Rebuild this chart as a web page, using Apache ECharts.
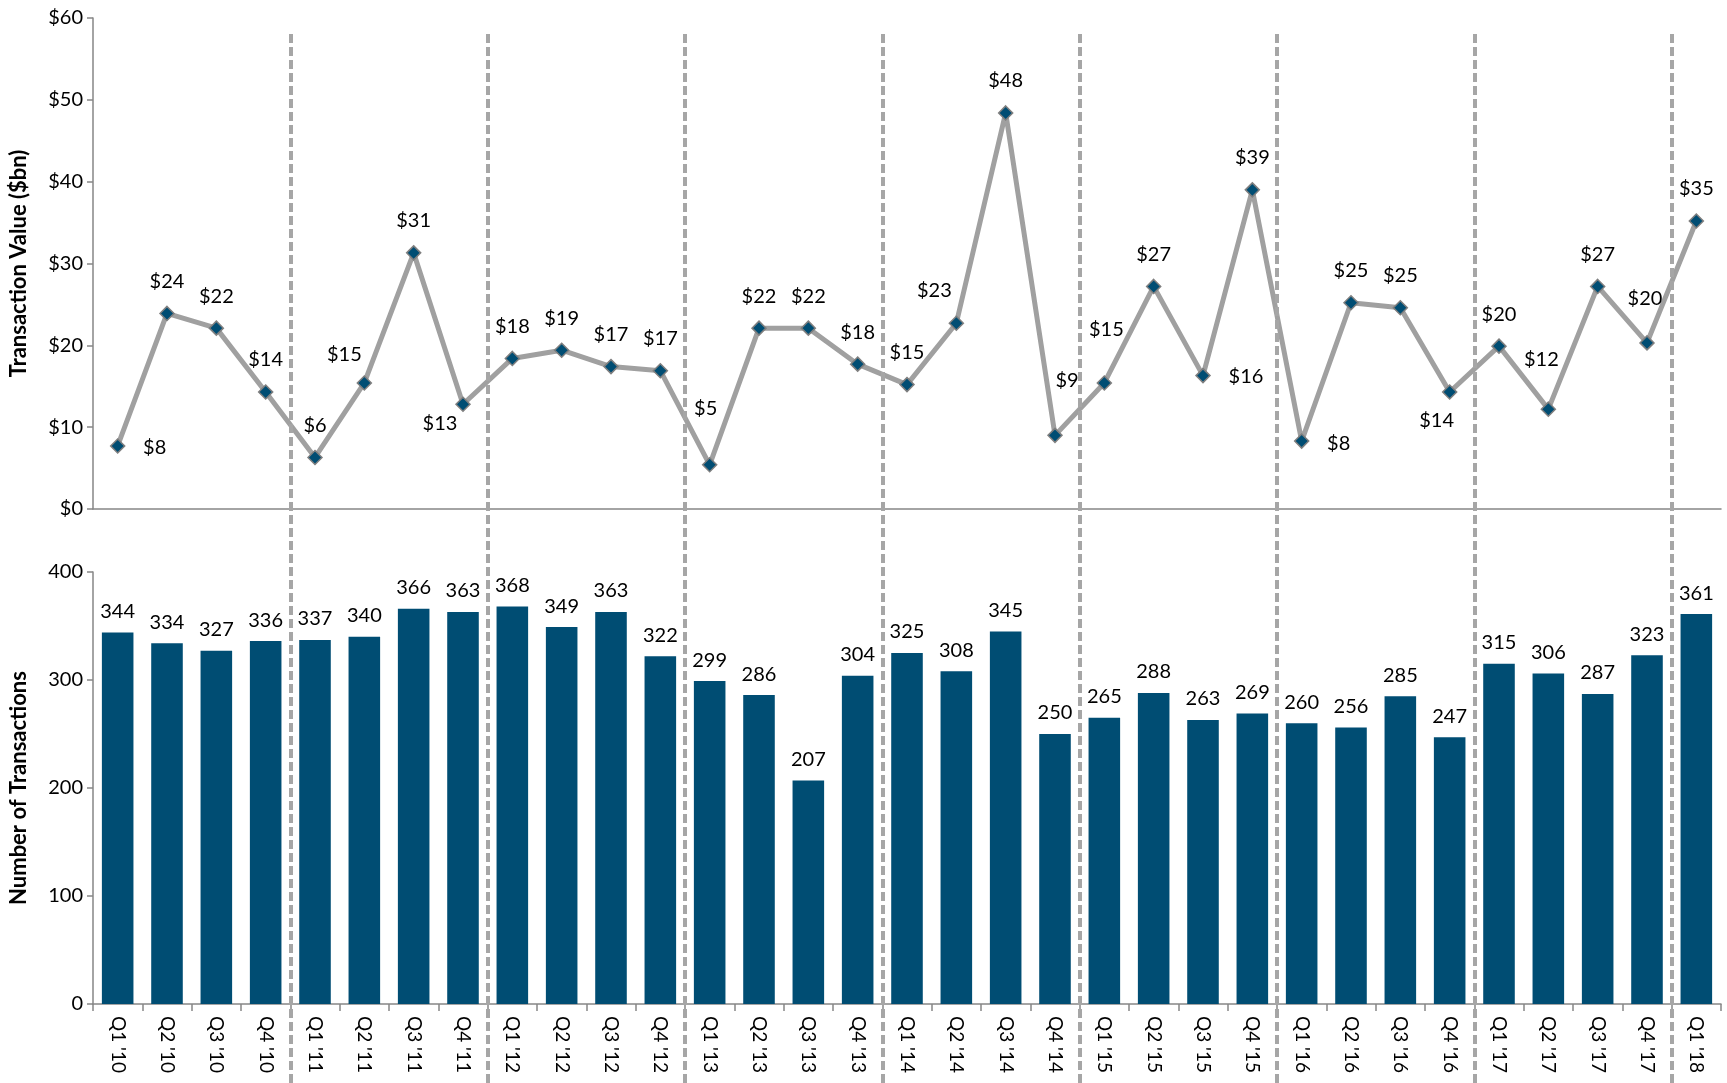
<!DOCTYPE html>
<html lang="en">
<head>
    <meta charset="UTF-8">
    <title>Transactions by quarter</title>
    <style>
        html, body { margin: 0; padding: 0; background: #fff; }
    </style>
</head>
<body>
    <div id="chart" style="width:1727px; height:1083px"></div>

    <script src="https://cdn.jsdelivr.net/npm/echarts@6/dist/echarts.min.js"></script>
    <script>
        // quarters
        const categories = [
            "Q1 '10", "Q2 '10", "Q3 '10", "Q4 '10",
            "Q1 '11", "Q2 '11", "Q3 '11", "Q4 '11",
            "Q1 '12", "Q2 '12", "Q3 '12", "Q4 '12",
            "Q1 '13", "Q2 '13", "Q3 '13", "Q4 '13",
            "Q1 '14", "Q2 '14", "Q3 '14", "Q4 '14",
            "Q1 '15", "Q2 '15", "Q3 '15", "Q4 '15",
            "Q1 '16", "Q2 '16", "Q3 '16", "Q4 '16",
            "Q1 '17", "Q2 '17", "Q3 '17", "Q4 '17",
            "Q1 '18"
        ];

        // transaction value ($bn)
        const values = [7.7, 23.9, 22.1, 14.3, 6.3, 15.4, 31.3, 12.8, 18.4, 19.4, 17.4, 16.9,
            5.4, 22.1, 22.1, 17.7, 15.2, 22.7, 48.4, 9.0, 15.4, 27.2, 16.3, 39.0,
            8.3, 25.2, 24.6, 14.3, 19.9, 12.2, 27.2, 20.3, 35.2];

        // number of transactions
        const counts = [344, 334, 327, 336, 337, 340, 366, 363, 368, 349, 363, 322,
            299, 286, 207, 304, 325, 308, 345, 250, 265, 288, 263, 269,
            260, 256, 285, 247, 315, 306, 287, 323, 361];

        // year starts -> dashed separators
        const yearStarts = categories.map((c, i) => (c.startsWith('Q1') && i > 0) ? i : -1).filter(i => i > 0);

        // where a value label is not simply above its point
        const labelShift = {
            0: [37, 2], 5: [-20, -28], 7: [-23, 19], 12: [-4, -56], 17: [-22, -33],
            19: [12, -55], 20: [2, -53], 22: [43, 1], 24: [37, 2], 27: [-13, 29],
            29: [-7, -50], 31: [-2, -44]
        };

        const FONT = 'Lato';
        const axisGrey = '#868686';
        const navy = '#004d73';

        const chart = echarts.init(document.getElementById('chart'));

        chart.setOption({
            animation: false,
            textStyle: { fontFamily: FONT },
            grid: [
                { left: 93, right: 6, top: 18, height: 491, containLabel: false, outerBoundsMode: 'none' },
                { left: 93, right: 6, top: 572, height: 432, containLabel: false, outerBoundsMode: 'none' },
                // overlay for the year separators
                { left: 93, right: 6, top: 32, bottom: 0, containLabel: false, outerBoundsMode: 'none' }
            ],
            xAxis: [
                {
                    gridIndex: 0, type: 'category', data: categories, boundaryGap: true,
                    axisLine: { lineStyle: { color: axisGrey, width: 1.5 } },
                    axisTick: { show: false },
                    axisLabel: { show: false }
                },
                {
                    gridIndex: 1, type: 'category', data: categories, boundaryGap: true,
                    axisLine: { lineStyle: { color: axisGrey, width: 1.5 } },
                    axisTick: { show: true, length: 7, lineStyle: { color: axisGrey, width: 1.5 } },
                    axisLabel: { rotate: -90, fontSize: 19, color: '#000', margin: 12, interval: 0 }
                },
                { gridIndex: 2, type: 'value', min: 0, max: categories.length, show: false }
            ],
            yAxis: [
                {
                    gridIndex: 0, type: 'value', min: 0, max: 60, interval: 10,
                    name: 'Transaction Value ($bn)', nameLocation: 'middle', nameRotate: 90, nameGap: 63,
                    nameTextStyle: { fontSize: 22, fontWeight: 'bold', color: '#000' },
                    axisLine: { show: true, lineStyle: { color: axisGrey, width: 1.5 } },
                    axisTick: { show: true, length: 6, lineStyle: { color: axisGrey, width: 1.5 } },
                    axisLabel: { fontSize: 20, color: '#000', margin: 10, formatter: v => '$' + v },
                    splitLine: { show: false }
                },
                {
                    gridIndex: 1, type: 'value', min: 0, max: 400, interval: 100,
                    name: 'Number of Transactions', nameLocation: 'middle', nameRotate: 90, nameGap: 63,
                    nameTextStyle: { fontSize: 22, fontWeight: 'bold', color: '#000' },
                    axisLine: { show: true, lineStyle: { color: axisGrey, width: 1.5 } },
                    axisTick: { show: true, length: 6, lineStyle: { color: axisGrey, width: 1.5 } },
                    axisLabel: { fontSize: 20, color: '#000', margin: 10 },
                    splitLine: { show: false }
                },
                { gridIndex: 2, type: 'value', min: 0, max: 1, show: false }
            ],
            series: [
                {
                    name: 'Transaction Value', type: 'line',
                    xAxisIndex: 0, yAxisIndex: 0,
                    z: 3,
                    symbol: 'diamond', symbolSize: 14,
                    lineStyle: { color: '#a0a0a0', width: 5 },
                    itemStyle: { color: navy, borderColor: '#7f7f7f', borderWidth: 1.5 },
                    data: values.map((v, i) => {
                        const off = labelShift[i] || [0, -32];
                        return { value: v, label: { offset: off } };
                    }),
                    label: {
                        show: true, position: 'inside', fontSize: 20, color: '#000',
                        formatter: p => '$' + Math.round(p.value)
                    }
                },
                {
                    name: 'Number of Transactions', type: 'bar',
                    xAxisIndex: 1, yAxisIndex: 1,
                    barCategoryGap: '36%',
                    itemStyle: { color: navy },
                    data: counts,
                    label: { show: true, position: 'top', distance: 11, fontSize: 20, color: '#000' }
                },
                {
                    type: 'scatter', xAxisIndex: 2, yAxisIndex: 2,
                    symbolSize: 0, silent: true, z: 5,
                    data: [[0, 0]],
                    markLine: {
                        silent: true, symbol: 'none', label: { show: false },
                        lineStyle: { color: '#a6a6a6', width: 4, type: [9, 4] },
                        data: yearStarts.map(i => ({ xAxis: i }))
                    }
                }
            ]
        });
    </script>
</body>
</html>
